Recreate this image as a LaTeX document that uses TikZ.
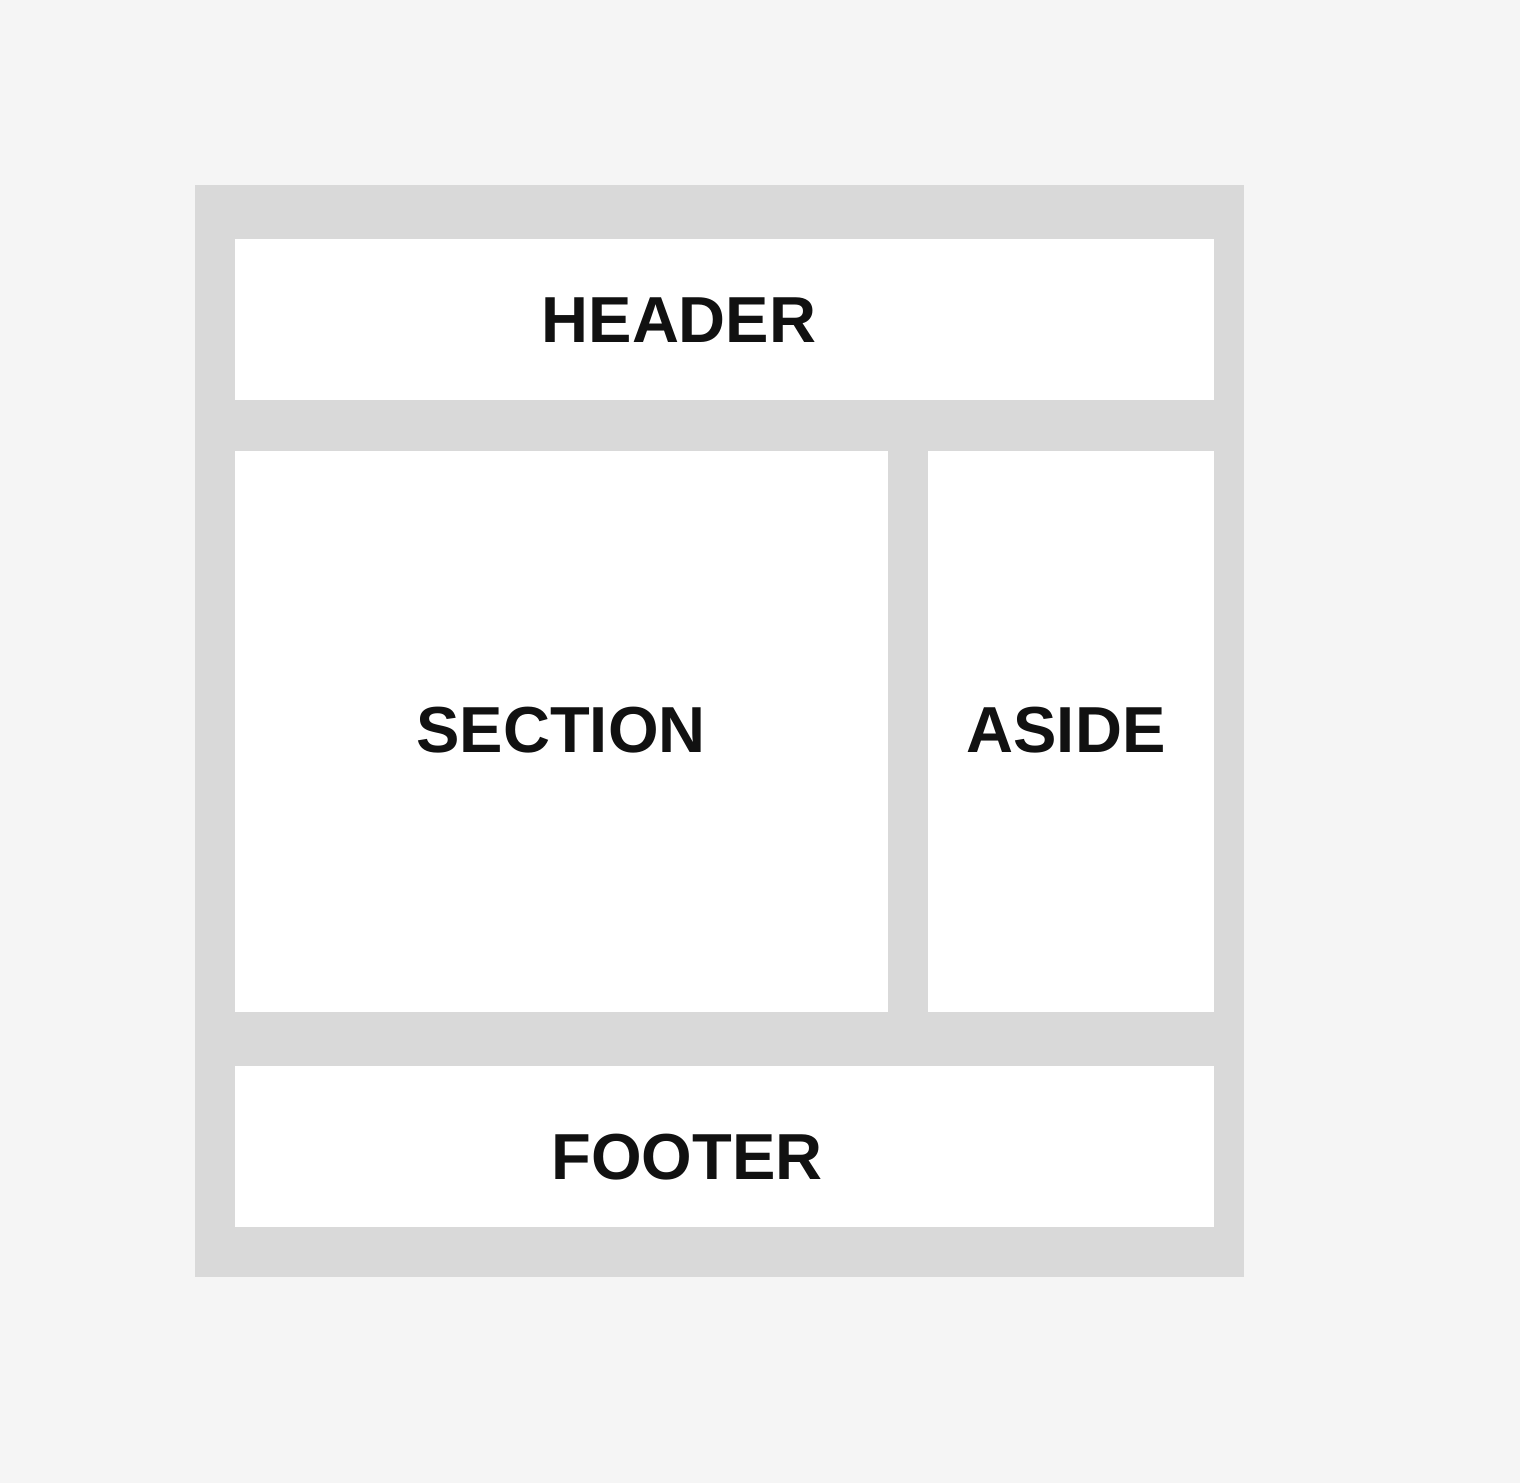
\documentclass[tikz,border=0pt]{standalone}
\usepackage{fontspec}
\setmainfont{Liberation Sans}
\definecolor{pagebg}{HTML}{F5F5F5}
\definecolor{framegray}{HTML}{D9D9D9}
\definecolor{inktext}{HTML}{111111}

\begin{document}
\begin{tikzpicture}[x=0.01cm, y=-0.01cm,
  panel/.style={fill=white, draw=none, inner sep=0pt},
  tag/.style={text=inktext, font=\fontsize{18.5}{22}\selectfont\bfseries, inner sep=0pt}]
\fill[pagebg] (0,0) rectangle (1520,1483);
\useasboundingbox (0,0) rectangle (1520,1483);
\node[fill=framegray, inner sep=0pt, minimum width=10.49cm, minimum height=10.92cm] (frame) at (719.5,731) {};
\node[panel, minimum width=9.79cm, minimum height=1.61cm] (header) at (724.5,319.5) {};
\node[panel, minimum width=6.53cm, minimum height=5.61cm] (section) at (561.5,731.5) {};
\node[panel, minimum width=2.86cm, minimum height=5.61cm] (aside) at (1071,731.5) {};
\node[panel, minimum width=9.79cm, minimum height=1.61cm] (footer) at (724.5,1146.5) {};
\node[tag] (headertext) at (679,320) {HEADER};
\node[tag] (sectiontext) at (561,730) {SECTION};
\node[tag] (asidetext) at (1066,730) {ASIDE};
\node[tag] (footertext) at (687,1157) {FOOTER};
\end{tikzpicture}
\end{document}
